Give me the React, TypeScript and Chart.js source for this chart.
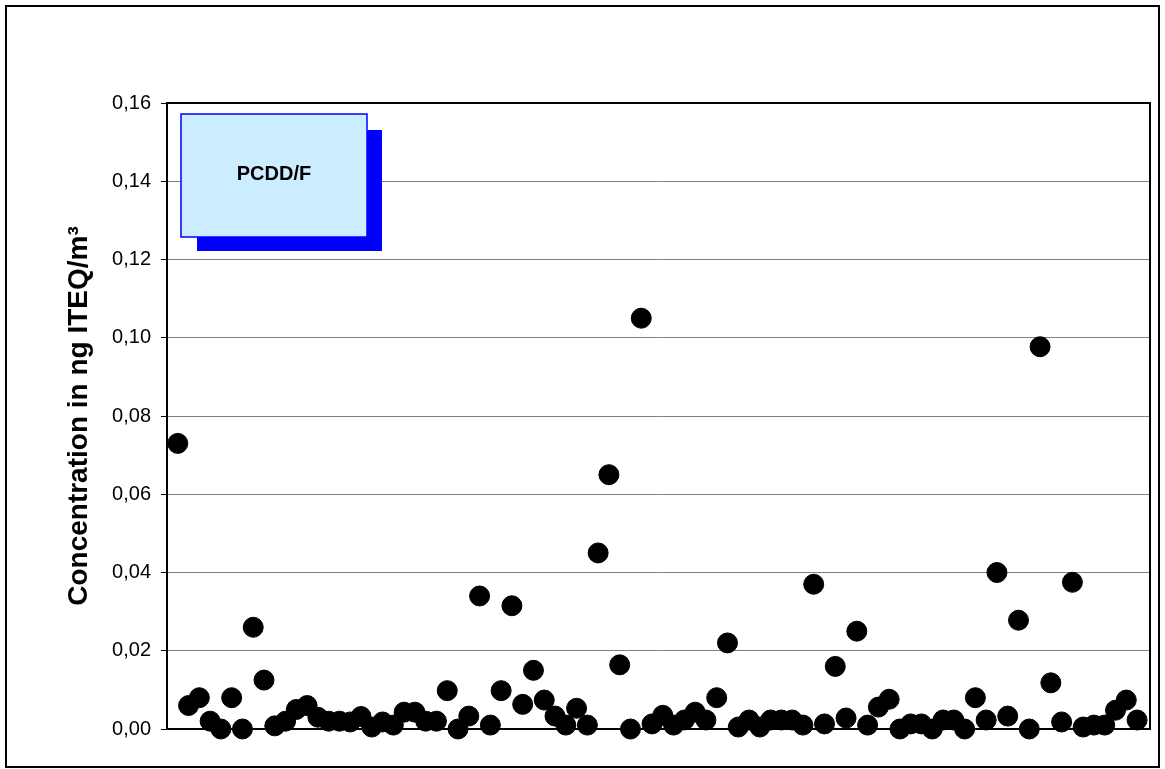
import { useEffect, useRef } from "react";
import { Chart, registerables } from "chart.js";

Chart.register(...registerables);

// PCDD/F concentration per sample, ng ITEQ/m³
const concentrations = [
  0.073, 0.006, 0.008, 0.002, 0.0, 0.008, 0.0, 0.026, 0.0125, 0.0008,
  0.002, 0.005, 0.006, 0.003, 0.002, 0.002, 0.0018, 0.0032, 0.0005, 0.0018,
  0.001, 0.0043, 0.0043, 0.002, 0.002, 0.0098, 0.0, 0.0033, 0.034, 0.001,
  0.0098, 0.0315, 0.0063, 0.015, 0.0074, 0.0033, 0.001, 0.0053, 0.001, 0.045,
  0.065, 0.0164, 0.0, 0.105, 0.0013, 0.0035, 0.001, 0.0023, 0.0043, 0.0023,
  0.008, 0.022, 0.0005, 0.0023, 0.0005, 0.0023, 0.0023, 0.0023, 0.001, 0.037,
  0.0013, 0.016, 0.0028, 0.025, 0.001, 0.0056, 0.0076, 0.0, 0.0013, 0.0013,
  0.0, 0.0023, 0.0023, 0.0, 0.008, 0.0023, 0.04, 0.0033, 0.0278, 0.0,
  0.0977, 0.0118, 0.0018, 0.0375, 0.0005, 0.001, 0.001, 0.0048, 0.0074, 0.0023,
];

const yTickLabels = ["0,00", "0,02", "0,04", "0,06", "0,08", "0,10", "0,12", "0,14", "0,16"];
const yTitle = "Concentration in ng ITEQ/m³";
const seriesName = "PCDD/F";

const FONT = "'Liberation Sans', Arial, sans-serif";

const framePlugin = {
  id: "frame",
  beforeDraw(chart: any) {
    const { ctx, width, height } = chart;
    ctx.save();
    ctx.fillStyle = "#ffffff";
    ctx.fillRect(0, 0, width, height);
    ctx.restore();
  },
  beforeDatasetsDraw(chart: any) {
    const { ctx, chartArea: a } = chart;
    ctx.save();
    ctx.strokeStyle = "#000000";
    ctx.lineWidth = 2;
    ctx.strokeRect(a.left, a.top, a.right - a.left, a.bottom - a.top);
    ctx.restore();
  },
  afterDatasetsDraw(chart: any) {
    const { ctx } = chart;
    ctx.save();
    // drop shadow of the series tag
    ctx.fillStyle = "#0000ff";
    ctx.fillRect(197, 130, 185, 121);
    // series tag
    ctx.fillStyle = "#ccecff";
    ctx.fillRect(181, 114, 186, 123);
    ctx.strokeStyle = "#0000ff";
    ctx.lineWidth = 1.5;
    ctx.strokeRect(181, 114, 186, 123);
    ctx.fillStyle = "#000000";
    ctx.font = `bold 20px ${FONT}`;
    ctx.textAlign = "center";
    ctx.textBaseline = "middle";
    ctx.fillText(seriesName, 274, 174);
    ctx.restore();
  },
  afterDraw(chart: any) {
    const { ctx } = chart;
    ctx.save();
    ctx.strokeStyle = "#000000";
    ctx.lineWidth = 2;
    ctx.strokeRect(6, 6, 1153, 761);
    ctx.restore();
  },
};

export default function App() {
  const canvasRef = useRef<HTMLCanvasElement | null>(null);

  useEffect(() => {
    const canvas = canvasRef.current;
    if (!canvas) return;
    const chart = new Chart(canvas, {
      type: "scatter",
      data: {
        datasets: [
          {
            label: seriesName,
            data: concentrations.map((v, i) => ({ x: i + 1, y: v })),
            backgroundColor: "#000000",
            borderColor: "#000000",
            borderWidth: 1,
            pointRadius: 10,
            pointHoverRadius: 10,
            clip: false,
          },
        ],
      },
      options: {
        responsive: false,
        animation: false,
        events: [],
        layout: { padding: { left: 0, right: 15, top: 103, bottom: 40 } },
        plugins: {
          legend: { display: false },
          tooltip: { enabled: false },
          title: { display: false },
        },
        scales: {
          x: {
            type: "linear",
            min: 0,
            max: 91.2,
            display: false,
          },
          y: {
            min: 0,
            max: 0.16,
            afterFit(scale: any) {
              scale.width = 167;
            },
            ticks: {
              stepSize: 0.02,
              color: "#000000",
              padding: 10,
              font: { family: FONT, size: 20 },
              callback: (_v: any, i: number) => yTickLabels[i],
            },
            grid: {
              color: "#808080",
              lineWidth: 1,
              tickColor: "#000000",
              tickLength: 6,
              drawTicks: true,
            },
            border: { display: false },
            title: {
              display: true,
              text: yTitle,
              color: "#000000",
              font: { family: FONT, size: 28, weight: "bold" },
              padding: { top: 62, bottom: 0 },
            },
          },
        },
      },
      plugins: [framePlugin],
    });
    return () => chart.destroy();
  }, []);

  return (
    <div style={{ position: "fixed", left: 0, top: 0, width: 1165, height: 769, background: "#fff" }}>
      <canvas ref={canvasRef} width={1165} height={769} />
    </div>
  );
}
